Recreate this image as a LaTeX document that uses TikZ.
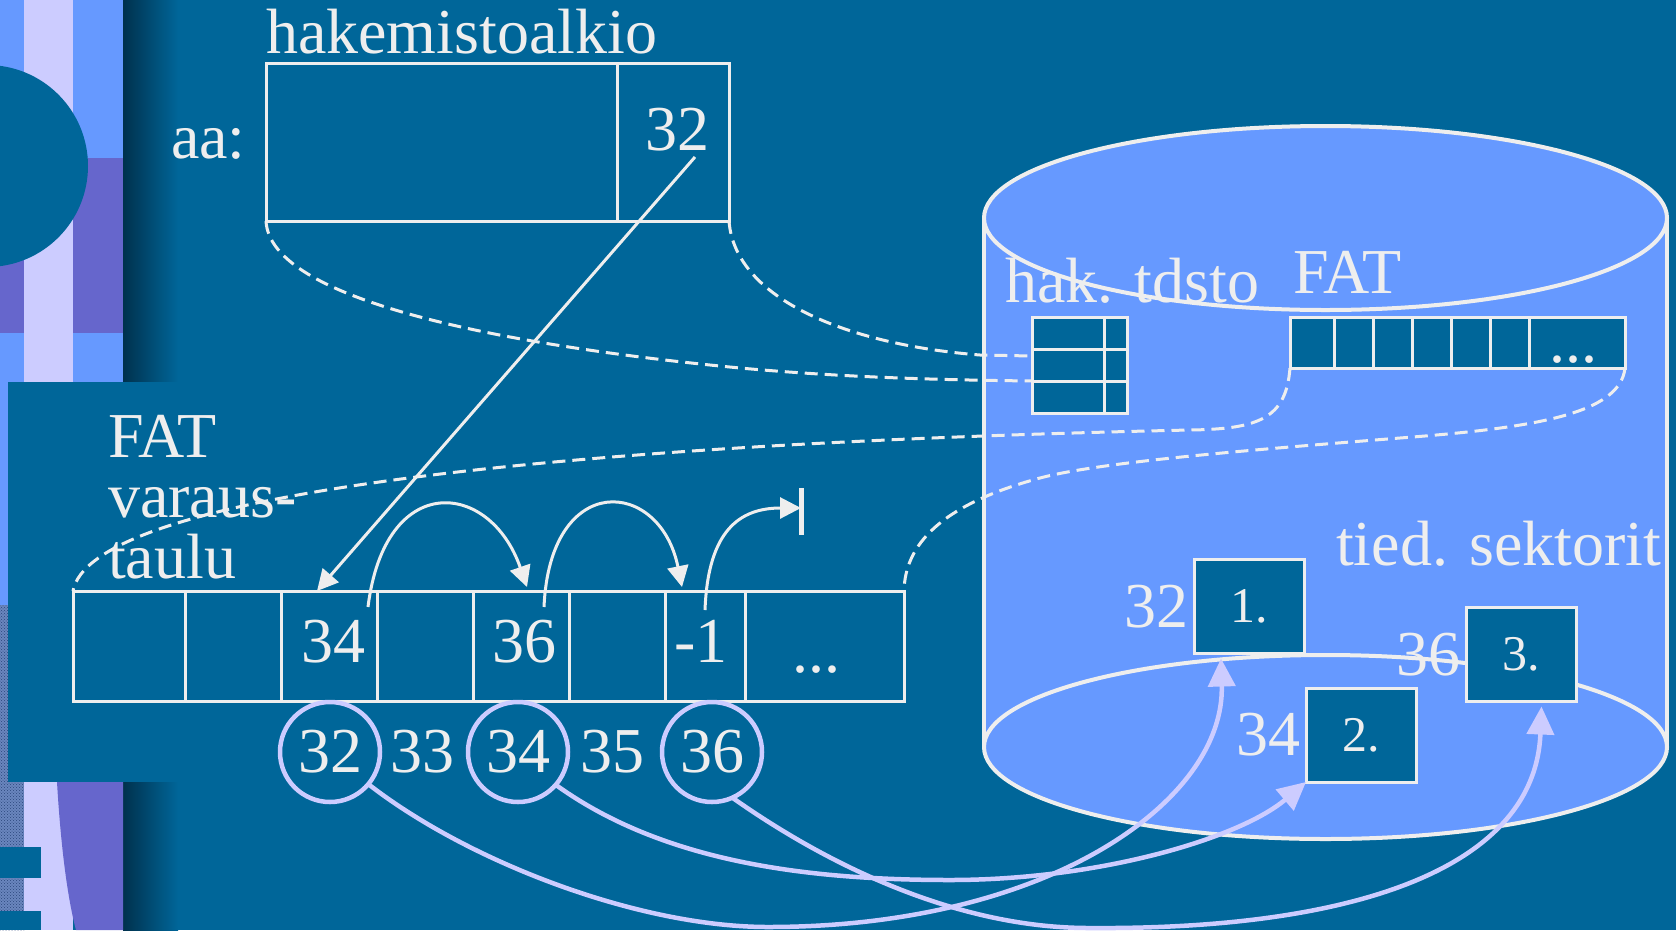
\documentclass[tikz,border=0pt]{standalone}
\usepackage{fontspec}
\newfontfamily\tnr{Liberation Serif}
\usetikzlibrary{positioning,arrows.meta,patterns}

\definecolor{bgblue}{HTML}{006699}
\definecolor{skyblue}{HTML}{6699FF}
\definecolor{lavender}{HTML}{CCCCFF}
\definecolor{stripviolet}{HTML}{6666CC}
\definecolor{deepblue}{HTML}{00314D}
\definecolor{chalk}{HTML}{EEEEEE}
\definecolor{granite}{HTML}{6A86BE}
\definecolor{granitedark}{HTML}{2A467C}

\begin{document}
\begin{tikzpicture}[x=1pt, y=-1pt,
  lbl/.style={font={\tnr\fontsize{64}{61}\selectfont}, text=chalk, inner sep=0pt, outer sep=0pt},
  cell/.style={draw=chalk, line width=3pt, inner sep=0pt, outer sep=0pt, minimum height=110pt},
  dcell/.style={cell, fill=bgblue, minimum height=32pt},
  scell/.style={cell, fill=bgblue, minimum height=51pt},
  sect/.style={draw=chalk, fill=bgblue, line width=3pt, outer sep=0pt, minimum width=110pt,
               minimum height=94pt, text=chalk, font={\tnr\fontsize{50}{50}\selectfont}},
  ring/.style={lbl, circle, draw=lavender, line width=4.5pt, minimum size=100pt},
  ptr/.style={draw=chalk, line width=3pt, -{Triangle[length=21pt, width=21pt]}},
  link/.style={draw=chalk, line width=3pt, dash pattern=on 13pt off 7pt},
  map/.style={draw=lavender, line width=4.5pt, -{Triangle[length=28pt, width=27pt]}}
]
\useasboundingbox (0,0) rectangle (1676,930);
\clip (0,0) rectangle (1676,930);
\fill[bgblue] (0,0) rectangle (1676,930);

% slide decoration on the left
\fill[skyblue] (0,0) rectangle (24,605);
\fill[granite, postaction={pattern=crosshatch dots, pattern color=granitedark}] (0,605) rectangle (24,930);
\fill[lavender] (24,0) rectangle (73,930);
\fill[skyblue] (73,0) rectangle (123,382);
\fill[stripviolet] (0,158) rectangle (24,333);
\fill[stripviolet] (73,158) rectangle (123,333);
\fill[bgblue] (-13,166) circle[radius=101pt];
\shade[left color=deepblue, right color=bgblue] (123,0) rectangle (178,930);
\fill[stripviolet] (57,782) .. controls (61,850) and (68,900) .. (76,930) -- (123,930) -- (123,782) -- cycle;
\fill[bgblue] (0,847) rectangle (41,878);
\fill[bgblue] (0,911) rectangle (41,930);
\fill[bgblue] (8,382) rectangle (210,782);

% disk
\fill[skyblue] (984,218) rectangle (1667,747);
\fill[skyblue] (1325.5,747) ellipse[x radius=341.5pt, y radius=92pt];
\fill[skyblue] (1325.5,218) ellipse[x radius=341.5pt, y radius=92pt];
\draw[chalk, line width=4pt] (1325.5,218) ellipse[x radius=341.5pt, y radius=92pt];
\draw[chalk, line width=4pt] (1325.5,747) ellipse[x radius=341.5pt, y radius=92pt];
\draw[chalk, line width=4pt] (984,218) -- (984,747) (1667,218) -- (1667,747);

% directory entry
\node[lbl, anchor=base west] (title) at (266,53) {hakemistoalkio};
\node[lbl, anchor=base west] (aa) at (171,158) {aa:};
\node[cell, minimum width=351pt, minimum height=158pt, anchor=north west] (entry) at (266,63) {};
\node[cell, minimum width=112pt, minimum height=158pt, right=0pt of entry] (entryptr) {};
\node[lbl, anchor=base] (ptr) at (677,150) {32};

% directory and FAT on the disk
\node[lbl, anchor=base west] (hakdir) at (1005,302) {hak. tdsto};
\node[lbl, anchor=base west] (fatlbl) at (1293,293) {FAT};
\foreach \r in {0,1,2} {
  \node[dcell, minimum width=72pt, anchor=north west] (dir\r) at (1032,{317+32*\r}) {};
  \node[dcell, minimum width=23pt, right=0pt of dir\r] (dirx\r) {};
}
\node[scell, minimum width=44pt, anchor=north west] (fat0) at (1290,317) {};
\foreach \i/\j in {1/0,2/1,3/2,4/3,5/4}
  \node[scell, minimum width=39pt, right=0pt of fat\j] (fat\i) {};
\node[scell, minimum width=96pt, right=0pt of fat5] (fat6) {};
\node[lbl, anchor=base] (fatdots) at (1573,362) {...};

% FAT in memory
\node[lbl, anchor=base west] (tab1) at (108,457) {FAT};
\node[lbl, anchor=base west] (tab2) at (108,517) {varaus-};
\node[lbl, anchor=base west] (tab3) at (108,578) {taulu};
\node[cell, minimum width=112pt, anchor=north west] (t1) at (73,591) {};
\foreach \i/\j/\w in {2/1/96,3/2/96,4/3/96,5/4/96,6/5/96,7/6/80,8/7/159}
  \node[cell, minimum width=\w pt, right=0pt of t\j] (t\i) {};
\node[lbl, anchor=base] (v34) at (333,662) {34};
\node[lbl, anchor=base] (v36) at (524,662) {36};
\node[lbl, anchor=base] (vend) at (701,662) {-1};
\node[lbl, anchor=base] (vdots) at (816,672) {...};

% cluster numbers
\node[ring] (n32) at (330,752) {32};
\node[lbl] (n33) at (422,752) {33};
\node[ring] (n34) at (518,752) {34};
\node[lbl] (n35) at (612,752) {35};
\node[ring] (n36) at (712,752) {36};

% file sectors
\node[lbl, anchor=base west] (seclbl) at (1336,565) {tied. sektorit};
\node[sect] (sec1) at (1249,606.5) {1.};
\node[sect] (sec2) at (1361,735) {2.};
\node[sect] (sec3) at (1521.5,654.5) {3.};
\node[lbl, left=6pt of sec1] (sec1no) {32};
\node[lbl, left=6pt of sec2] (sec2no) {34};
\node[lbl, left=6pt of sec3] (sec3no) {36};

% dashed correspondences
\draw[link] (entry.south west) .. controls (270,300) and (500,345) .. (740,368)
  .. controls (850,378) and (950,380) .. (dir1.south west);
\draw[link] (entryptr.south east) .. controls (735,300) and (850,345) .. (980,355)
  -- ([yshift=-7pt]dir1.north west);
\draw[link] (fat0.south west) .. controls (1286,418) and (1260,429) .. (1190,430)
  .. controls (500,445) and (90,500) .. (t1.north west);
\draw[link] (fat6.south east) .. controls (1620,415) and (1530,428) .. (1400,438)
  .. controls (1250,450) and (1100,462) .. (1040,478)
  .. controls (940,505) and (905,545) .. (t8.north east);

% chain
\coordinate (stop) at (801,508);
\draw[ptr] ([xshift=18pt,yshift=-7pt]ptr.base) -- ([xshift=-12pt]t3.north);
\draw[ptr] ([xshift=-9pt,yshift=-16pt]t3.north east) .. controls (385,470) and (490,480)
  .. ([xshift=6pt,yshift=4pt]t5.north);
\draw[ptr] ([xshift=-25pt,yshift=-16pt]t5.north east) .. controls (550,470) and (660,478)
  .. ([xshift=-23pt,yshift=4pt]t7.north);
\draw[ptr] ([yshift=-19pt]t7.north) .. controls (708,530) and (740,508) .. (stop);
\draw[chalk, line width=5pt] ([yshift=20pt]stop) -- ([yshift=-27pt]stop);

% clusters to sectors
\draw[map] (n32.-40) .. controls (470,863) and (640,927) .. (768,927)
  .. controls (1050,927) and (1225,800) .. ([xshift=-28pt,yshift=-5pt]sec1.south);
\draw[map] (n34.-41) .. controls (660,860) and (800,880) .. (950,880)
  .. controls (1100,880) and (1240,838) .. (sec2.south west);
\draw[map] (n36.-66) .. controls (832,868) and (960,928) .. (1089,928)
  .. controls (1350,930) and (1535,870) .. ([xshift=20pt,yshift=-5pt]sec3.south);
\end{tikzpicture}
\end{document}
